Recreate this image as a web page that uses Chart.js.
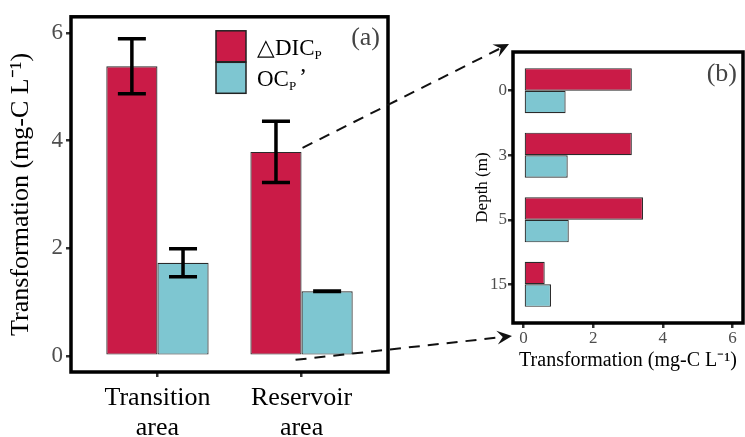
<!DOCTYPE html>
<html>
<head>
<meta charset="utf-8">
<script src="https://cdn.jsdelivr.net/npm/chart.js@4.4.1/dist/chart.umd.min.js"></script>
<style>
  body { margin: 0; background: #fff; }
  #wrap { position: relative; width: 745px; height: 437px; }
  #wrap canvas { position: absolute; top: 0; }
  #areaChart { left: 0; }
  #depthChart { left: 460px; }
  #arrows { left: 0; pointer-events: none; }
</style>
</head>
<body>
<div id="wrap">
  <canvas id="areaChart" width="400" height="437"></canvas>
  <canvas id="depthChart" width="285" height="437"></canvas>
  <canvas id="arrows" width="745" height="437"></canvas>
</div>
<script>
// panel (a): means per area with error bars
const areas = [['Transition', 'area'], ['Reservoir', 'area']];
const dicArea = [5.38, 3.79];
const dicAreaErr = [0.51, 0.57];
const ocArea = [1.73, 1.20];
const ocAreaErr = [0.26, 0.005];

// panel (b): reservoir values by depth
const depths = ['0', '3', '5', '15'];
const dicDepth = [3.11, 3.11, 3.43, 0.61];
const ocDepth = [1.21, 1.27, 1.30, 0.79];

const valueTicks = [0, 2, 4, 6];

const RED = '#CA1B47';
const CYAN = '#7EC6D1';
const EDGE = '#2a2a2a';
const SERIF = "'Liberation Serif', 'Times New Roman', serif";

// frame, error bars, legend and panel letter
const panelPlugin = {
    id: 'panel',
    afterDatasetsDraw(chart) {
        const ctx = chart.ctx;
        const yScale = chart.scales.y;
        ctx.save();
        ctx.strokeStyle = '#000';
        ctx.lineWidth = 3.5;
        chart.data.datasets.forEach((ds, i) => {
            if (!ds.errors) return;
            chart.getDatasetMeta(i).data.forEach((bar, j) => {
                const v = ds.data[j].y;
                const top = yScale.getPixelForValue(v + ds.errors[j]);
                const bot = yScale.getPixelForValue(v - ds.errors[j]);
                ctx.beginPath();
                ctx.moveTo(bar.x, top); ctx.lineTo(bar.x, bot);
                ctx.moveTo(bar.x - 14, top); ctx.lineTo(bar.x + 14, top);
                ctx.moveTo(bar.x - 14, bot); ctx.lineTo(bar.x + 14, bot);
                ctx.stroke();
            });
        });
        ctx.restore();
    },
    afterDraw(chart, args, opts) {
        const ctx = chart.ctx;
        const a = chart.chartArea;
        ctx.save();
        ctx.strokeStyle = '#000';
        ctx.lineWidth = 3.5;
        ctx.strokeRect(a.left, a.top, a.right - a.left, a.bottom - a.top);

        ctx.fillStyle = '#444';
        ctx.font = opts.letterSize + 'px ' + SERIF;
        ctx.textAlign = 'right';
        ctx.textBaseline = 'middle';
        ctx.fillText(opts.letter, a.right - opts.letterDx, a.top + opts.letterDy);

        if (opts.legend) {
            const x = a.left + 145, y0 = a.top + 14;
            chart.data.datasets.forEach((ds, i) => {
                const y = y0 + i * 31.5;
                ctx.fillStyle = ds.backgroundColor;
                ctx.fillRect(x, y, 30, 31);
                ctx.strokeStyle = '#222';
                ctx.lineWidth = 1.5;
                ctx.strokeRect(x, y, 30, 31);
                const parts = ds.legendParts;
                ctx.fillStyle = '#000';
                ctx.textAlign = 'left';
                ctx.textBaseline = 'alphabetic';
                let tx = x + 41;
                const base = y + 24;
                ctx.font = '23px ' + SERIF;
                ctx.fillText(parts[0], tx, base);
                tx += ctx.measureText(parts[0]).width;
                ctx.font = '13px ' + SERIF;
                ctx.fillText(parts[1], tx, base + 4);
                tx += ctx.measureText(parts[1]).width + 3;
                ctx.font = '23px ' + SERIF;
                ctx.fillText(parts[2], tx, base - 2);
            });
        }
        ctx.restore();
    }
};

const areaChart = new Chart(document.getElementById('areaChart'), {
    type: 'bar',
    data: {
        datasets: [
            {
                label: '△DICP',
                legendParts: ['△DIC', 'P', ''],
                data: dicArea.map((v, i) => ({ x: i + 1, y: v })),
                errors: dicAreaErr,
                backgroundColor: RED,
                borderColor: EDGE,
                borderWidth: 1.2,
                borderSkipped: false,
            },
            {
                label: "OCP'",
                legendParts: ['OC', 'P', '’'],
                data: ocArea.map((v, i) => ({ x: i + 1, y: v })),
                errors: ocAreaErr,
                backgroundColor: CYAN,
                borderColor: EDGE,
                borderWidth: 1.2,
                borderSkipped: false,
            },
        ],
    },
    options: {
        responsive: false,
        animation: false,
        layout: { padding: { left: 0, top: 14, right: 12, bottom: 0 } },
        datasets: { bar: { categoryPercentage: 0.71, barPercentage: 1 } },
        plugins: {
            legend: { display: false },
            tooltip: { enabled: false },
            panel: { letter: '(a)', letterSize: 26, letterDx: 8, letterDy: 21, legend: true },
        },
        scales: {
            x: {
                type: 'linear',
                offset: false,
                min: 0.4,
                max: 2.6,
                afterBuildTicks: s => { s.ticks = areas.map((a, i) => ({ value: i + 1 })); },
                afterFit: s => { s.height = 437 - 14 - 358; },
                border: { display: false },
                grid: { offset: false, drawOnChartArea: false, color: '#333', lineWidth: 2.5, tickLength: 5 },
                ticks: {
                    callback: (v, i) => areas[i],
                    color: '#000',
                    font: { family: SERIF, size: 26, lineHeight: 1.15 },
                    padding: 6,
                    maxRotation: 0,
                    autoSkip: false,
                },
            },
            y: {
                min: -0.3,
                max: 6.3,
                afterBuildTicks: s => { s.ticks = valueTicks.map(v => ({ value: v })); },
                afterFit: s => { s.width = 71; },
                border: { display: false },
                grid: { drawOnChartArea: false, color: '#333', lineWidth: 2.5, tickLength: 5 },
                ticks: { color: '#4d4d4d', font: { family: SERIF, size: 23 }, padding: 3 },
                title: {
                    display: true,
                    text: 'Transformation (mg-C L⁻¹)',
                    color: '#000',
                    font: { family: SERIF, size: 26 },
                    padding: { top: 6, bottom: 0 },
                },
            },
        },
    },
    plugins: [panelPlugin],
});

const depthChart = new Chart(document.getElementById('depthChart'), {
    type: 'bar',
    data: {
        datasets: [
            {
                label: '△DICP',
                data: dicDepth.map((v, i) => ({ x: v, y: i + 1 })),
                backgroundColor: RED,
                borderColor: EDGE,
                borderWidth: 1.2,
                borderSkipped: false,
            },
            {
                label: "OCP'",
                data: ocDepth.map((v, i) => ({ x: v, y: i + 1 })),
                backgroundColor: CYAN,
                borderColor: EDGE,
                borderWidth: 1.2,
                borderSkipped: false,
            },
        ],
    },
    options: {
        indexAxis: 'y',
        responsive: false,
        animation: false,
        layout: { padding: { left: 0, top: 52, right: 2, bottom: 64 } },
        datasets: { bar: { categoryPercentage: 0.7, barPercentage: 1 } },
        plugins: {
            legend: { display: false },
            tooltip: { enabled: false },
            panel: { letter: '(b)', letterSize: 26, letterDx: 6, letterDy: 22, legend: false },
        },
        scales: {
            x: {
                type: 'linear',
                min: -0.3,
                max: 6.3,
                afterBuildTicks: s => { s.ticks = valueTicks.map(v => ({ value: v })); },
                afterFit: s => { s.height = 437 - 52 - 271 - 64; },
                border: { display: false },
                grid: { drawOnChartArea: false, color: '#333', lineWidth: 2.5, tickLength: 5 },
                ticks: { color: '#4d4d4d', font: { family: SERIF, size: 17 }, padding: 0 },
                title: {
                    display: true,
                    text: 'Transformation (mg-C L⁻¹)',
                    color: '#000',
                    font: { family: SERIF, size: 20 },
                    padding: { top: 0, bottom: 0 },
                },
            },
            y: {
                type: 'linear',
                offset: false,
                reverse: true,
                min: 0.4,
                max: 4.6,
                afterBuildTicks: s => { s.ticks = depths.map((d, i) => ({ value: i + 1 })); },
                afterFit: s => { s.width = 53; },
                border: { display: false },
                grid: { offset: false, drawOnChartArea: false, color: '#333', lineWidth: 2.5, tickLength: 5 },
                ticks: {
                    callback: (v, i) => depths[i],
                    color: '#4d4d4d',
                    font: { family: SERIF, size: 17 },
                    padding: 1,
                    autoSkip: false,
                },
                title: {
                    display: true,
                    text: 'Depth (m)',
                    color: '#000',
                    font: { family: SERIF, size: 17 },
                    padding: { top: 12, bottom: 0 },
                },
            },
        },
    },
    plugins: [panelPlugin],
});

// dashed arrows from the reservoir bars in (a) to panel (b)
function drawArrow(ctx, x1, y1, x2, y2) {
    const ang = Math.atan2(y2 - y1, x2 - x1);
    const L = 15;
    ctx.save();
    ctx.strokeStyle = '#111';
    ctx.fillStyle = '#111';
    ctx.lineWidth = 2;
    ctx.setLineDash([11, 8]);
    ctx.beginPath();
    ctx.moveTo(x1, y1);
    ctx.lineTo(x2 - L * 0.6 * Math.cos(ang), y2 - L * 0.6 * Math.sin(ang));
    ctx.stroke();
    ctx.setLineDash([]);
    ctx.translate(x2, y2);
    ctx.rotate(ang);
    ctx.beginPath();
    ctx.moveTo(0, 0);
    ctx.lineTo(-L, -7);
    ctx.lineTo(-L * 0.62, 0);
    ctx.lineTo(-L, 7);
    ctx.closePath();
    ctx.fill();
    ctx.restore();
}

const actx = document.getElementById('arrows').getContext('2d');
const offB = 460;
const redBar = areaChart.getDatasetMeta(0).data[1];
const cyanBar = areaChart.getDatasetMeta(1).data[1];
const zeroY = areaChart.scales.y.getPixelForValue(0);
const bArea = depthChart.chartArea;
drawArrow(actx, redBar.x + redBar.width / 2 + 1, redBar.y - 4, offB + bArea.left - 4, bArea.top - 8);
drawArrow(actx, cyanBar.x - cyanBar.width / 2 - 6, zeroY + 4, offB + bArea.left - 1, bArea.bottom + 13);
</script>
